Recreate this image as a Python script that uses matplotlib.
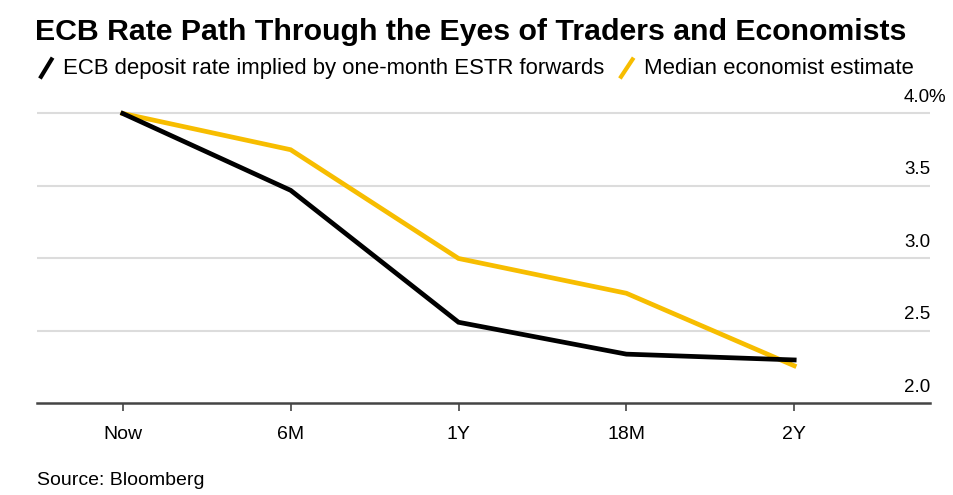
import matplotlib.pyplot as plt
from matplotlib.lines import Line2D
from matplotlib.transforms import blended_transform_factory, offset_copy

plt.rcParams['font.family'] = ['Liberation Sans', 'DejaVu Sans']

periods = ["Now", "6M", "1Y", "18M", "2Y"]
traders = [4.0, 3.47, 2.56, 2.34, 2.30]
economists = [4.0, 3.75, 3.00, 2.76, 2.26]
y_ticks = [2.0, 2.5, 3.0, 3.5, 4.0]

black = "#000000"
yellow = "#F7BD00"

fig = plt.figure(figsize=(9.54, 4.95), dpi=100)
ax = fig.add_axes([0.039, 0.185, 0.936, 0.615])

x = range(len(periods))
ax.plot(x, economists, color=yellow, lw=3.4, solid_joinstyle='miter', zorder=3)
ax.plot(x, traders, color=black, lw=3.4, solid_joinstyle='miter', zorder=4)

ax.set_xlim(-0.51, 4.81)
ax.set_ylim(2.0, 4.1)
ax.set_xticks(list(x))
ax.set_xticklabels(periods, fontsize=14)
ax.tick_params(axis='x', length=6, width=1.2, color='#444444', pad=10)
ax.set_yticks([])

# gridlines + labels sitting on the right end
trans = blended_transform_factory(ax.transAxes, ax.transData)
for v in y_ticks[1:]:
    ax.axhline(v, color='#dcdcdc', lw=1.5, zorder=1)
for v in y_ticks:
    t = offset_copy(trans, fig=fig, x=0, y=5.5, units='points')
    ax.text(1.0, v, f"{v:.1f}", transform=t, ha='right', va='bottom', fontsize=13.5)
t = offset_copy(trans, fig=fig, x=-1, y=5.5, units='points')
ax.text(1.0, y_ticks[-1], "%", transform=t, ha='left', va='bottom', fontsize=13.5)

for s in ['top', 'right', 'left']:
    ax.spines[s].set_visible(False)
ax.spines['bottom'].set_color('#444444')
ax.spines['bottom'].set_linewidth(1.8)

fig.text(0.037, 0.936, "ECB Rate Path Through the Eyes of Traders and Economists",
         fontsize=21.8, fontweight='bold', va='center')

# legend
fig.add_artist(Line2D([0.043, 0.054], [0.845, 0.880], color=black, lw=3, transform=fig.transFigure))
fig.text(0.066, 0.862, "ECB deposit rate implied by one-month ESTR forwards", fontsize=15.9, va='center')
fig.add_artist(Line2D([0.651, 0.663], [0.845, 0.880], color=yellow, lw=3, transform=fig.transFigure))
fig.text(0.675, 0.862, "Median economist estimate", fontsize=15.9, va='center')

fig.text(0.039, 0.030, "Source: Bloomberg", fontsize=14, va='center')

fig.savefig("out.png", dpi=100)
